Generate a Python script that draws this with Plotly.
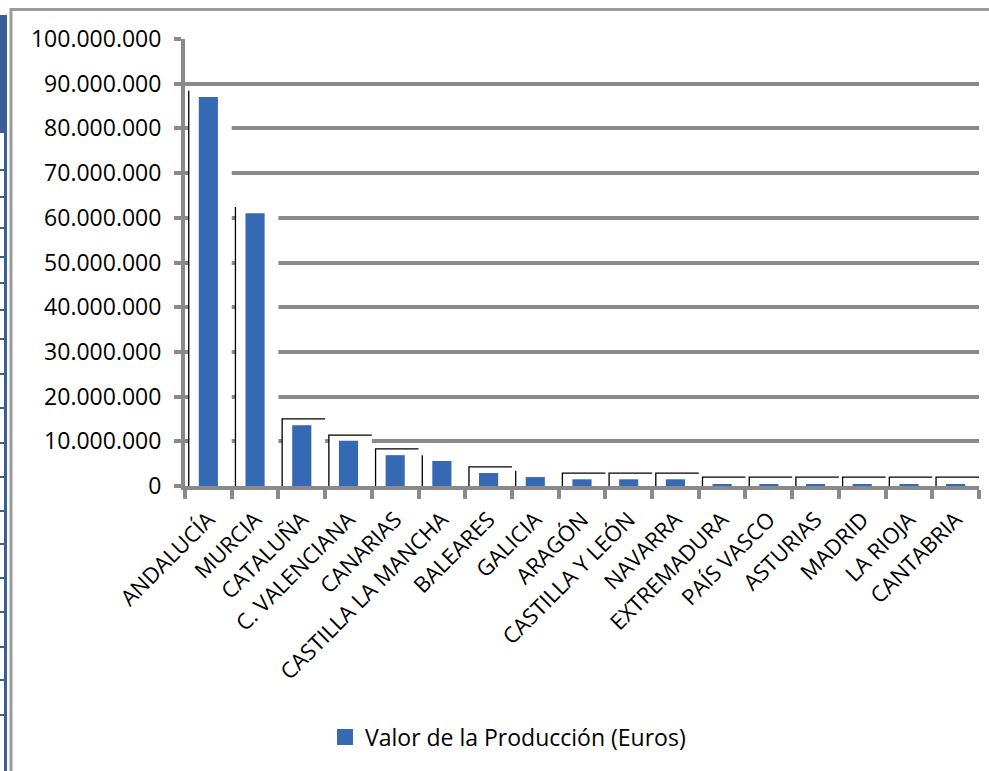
import plotly.graph_objects as go

# ---------------- data ----------------
regions = ["ANDALUCÍA", "MURCIA", "CATALUÑA", "C. VALENCIANA", "CANARIAS",
           "CASTILLA LA MANCHA", "BALEARES", "GALICIA", "ARAGÓN",
           "CASTILLA Y LEÓN", "NAVARRA", "EXTREMADURA", "PAÍS VASCO",
           "ASTURIAS", "MADRID", "LA RIOJA", "CANTABRIA"]
valor = [87_000_000, 61_000_000, 13_600_000, 10_100_000, 6_900_000,
         5_600_000, 2_900_000, 2_000_000, 1_500_000,
         1_500_000, 1_500_000, 400_000, 400_000,
         400_000, 400_000, 400_000, 400_000]
# faint "ghost" frames visible behind the bars in the original capture
ghost_top = [88_400_000, 62_400_000, 15_000_000, 11_400_000, 8_300_000,
             6_900_000, 4_300_000, 3_400_000, 2_900_000,
             2_900_000, 2_900_000, 2_000_000, 2_000_000,
             2_000_000, 2_000_000, 2_000_000, 2_000_000]
ghost_cap = [False, False, True, True, True,
             False, True, False, True,
             True, True, True, True,
             True, True, True, True]
y_ticks = list(range(0, 100_000_001, 10_000_000))
series_name = "Valor de la Producción (Euros)"

# ---------------- style ----------------
W, H = 989, 771
L, R, T, B = 185, 10, 39, 285
PW, PH = W - L - R, H - T - B
FONT = "Open Sans"
GRID = "#8a8a8a"
BLUE = "#3669b3"

def px_x(px):
    return (px - L) / PW

def px_y(py):
    return (H - B - py) / PH

idx = list(range(len(regions)))

fig = go.Figure()

# white ghost boxes (cover gridlines like in the original)
fig.add_trace(go.Bar(
    x=idx, y=ghost_top, width=0.92, offset=-0.42,
    marker=dict(color="white", line=dict(width=0)),
    showlegend=False, hoverinfo="skip"))

# main bars
fig.add_trace(go.Bar(
    x=idx, y=valor, width=0.41, name=series_name,
    marker=dict(color=BLUE, line=dict(width=0)),
    showlegend=False))

# legend entry with a larger square swatch
fig.add_trace(go.Scatter(
    x=[None], y=[None], mode="markers", name=series_name,
    marker=dict(symbol="square", size=16, color=BLUE),
    showlegend=True))

# ghost outline strokes
gx, gy = [], []
for i, top, cap in zip(idx, ghost_top, ghost_cap):
    xl = i - 0.42
    gx += [xl, xl]
    gy += [-900_000, top]
    if cap:
        gx += [i + 0.5]
        gy += [top]
    gx.append(None)
    gy.append(None)
fig.add_trace(go.Scatter(
    x=gx, y=gy, mode="lines", line=dict(color="black", width=1.3),
    showlegend=False, hoverinfo="skip", cliponaxis=False))

fig.update_layout(
    width=W, height=H,
    margin=dict(l=L, r=R, t=T, b=B),
    paper_bgcolor="white", plot_bgcolor="white",
    barmode="overlay",
    separators=",.",
    font=dict(family=FONT, color="black", size=22),
    showlegend=True,
    legend=dict(orientation="h", x=px_x(325), y=px_y(737),
                xanchor="left", yanchor="middle",
                font=dict(family=FONT, size=23, color="black"),
                bgcolor="rgba(0,0,0,0)", itemsizing="trace"),
)

fig.update_yaxes(
    range=[0, 100_000_000], tickvals=y_ticks, tickformat=",d",
    showgrid=True, gridcolor=GRID, gridwidth=4,
    showline=True, linecolor=GRID, linewidth=4,
    ticks="outside", ticklen=7, tickwidth=4, tickcolor=GRID,
    zeroline=False, tickfont=dict(size=23, family=FONT),
    ticklabelstandoff=8,
)

fig.update_xaxes(
    range=[-0.5, len(regions) - 0.5],
    tickvals=idx, ticktext=regions, tickangle=-45,
    ticks="", showgrid=False, zeroline=False,
    showline=True, linecolor=GRID, linewidth=4,
    minor=dict(tick0=-0.5, dtick=1, ticks="outside", ticklen=9,
               tickwidth=4, tickcolor=GRID, showgrid=False),
    tickfont=dict(size=22, family=FONT),
    ticklabelstandoff=8,
)

# decorative frame artifacts from the original screenshot
shapes = []
shapes.append(dict(type="line", xref="paper", yref="paper",
                   x0=px_x(10), x1=px_x(989), y0=px_y(9.5), y1=px_y(9.5),
                   line=dict(color="#9a9a9a", width=3)))
shapes.append(dict(type="line", xref="paper", yref="paper",
                   x0=px_x(11), x1=px_x(11), y0=px_y(8), y1=px_y(771),
                   line=dict(color="#9a9a9a", width=3)))
shapes.append(dict(type="rect", xref="paper", yref="paper",
                   x0=px_x(0), x1=px_x(7), y0=px_y(133), y1=px_y(15),
                   fillcolor="#3a5f95", line=dict(width=0)))
shapes.append(dict(type="line", xref="paper", yref="paper",
                   x0=px_x(5.5), x1=px_x(5.5), y0=px_y(133), y1=px_y(771),
                   line=dict(color="#3a5f95", width=3)))
for py in [170, 197, 228, 257, 283, 310, 339, 374, 408, 443, 477, 511,
           544, 578, 612, 647, 680, 715]:
    shapes.append(dict(type="line", xref="paper", yref="paper",
                       x0=px_x(0), x1=px_x(5), y0=px_y(py), y1=px_y(py),
                       line=dict(color="#3a5f95", width=2)))
fig.update_layout(shapes=shapes)

fig.write_html("out.html",
               config={"displayModeBar": False},
               post_script="document.body.style.margin='0';"
                           "document.body.style.overflow='hidden';")
